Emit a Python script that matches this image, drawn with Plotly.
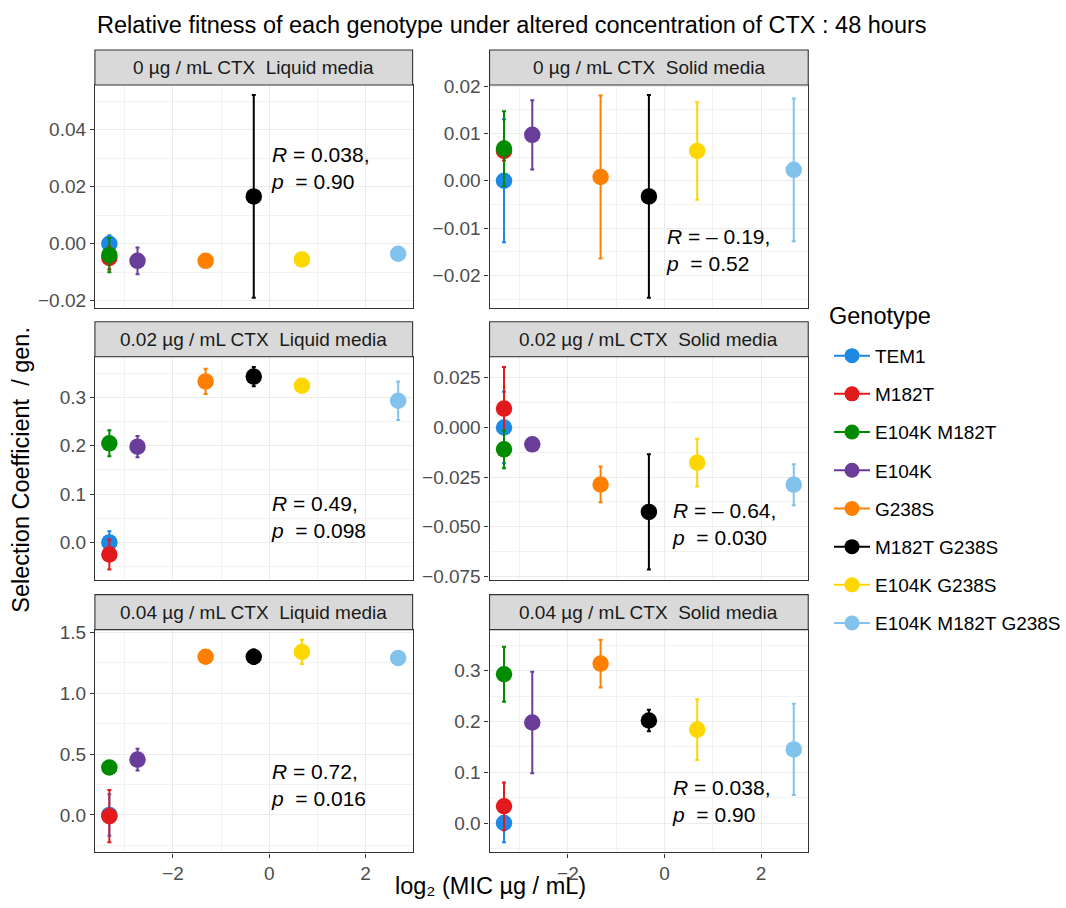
import numpy as np
import plotly.graph_objects as go

# ---------------- data ----------------
genotypes = ["TEM1", "M182T", "E104K M182T", "E104K", "G238S",
             "M182T G238S", "E104K G238S", "E104K M182T G238S"]
mic_ug_ml = [0.1, 0.1, 0.1, 0.15, 0.4, 0.8, 1.6, 6.4]
colors = ["#1E88E5", "#E31A1C", "#008B00", "#6A3D9A", "#FF7F00",
          "#000000", "#FFD700", "#82C3EE"]

panel_titles = ["0 µg / mL CTX  Liquid media", "0 µg / mL CTX  Solid media",
                "0.02 µg / mL CTX  Liquid media", "0.02 µg / mL CTX  Solid media",
                "0.04 µg / mL CTX  Liquid media", "0.04 µg / mL CTX  Solid media"]

s_0_liquid = [0.0, -0.005, -0.004, -0.006, -0.006, 0.0166, -0.0055, -0.0035]
e_0_liquid = [0.003, 0.004, 0.006, 0.0047, 0.001, 0.0355, 0.001, 0.001]
s_0_solid = [0.0, 0.0063, 0.0068, 0.0097, 0.0008, -0.0033, 0.0063, 0.0023]
e_0_solid = [0.013, 0.002, 0.0079, 0.0073, 0.0172, 0.0214, 0.0103, 0.0151]
s_002_liquid = [0.0, -0.025, 0.205, 0.198, 0.333, 0.343, 0.324, 0.293]
e_002_liquid = [0.023, 0.031, 0.027, 0.022, 0.026, 0.02, 0.005, 0.04]
s_002_solid = [0.0, 0.0095, -0.011, -0.0085, -0.0287, -0.0425, -0.0177, -0.0288]
e_002_solid = [0.018, 0.021, 0.0095, 0.001, 0.009, 0.029, 0.012, 0.0103]
s_004_liquid = [0.0, -0.01, 0.39, 0.455, 1.30, 1.30, 1.34, 1.29]
e_004_liquid = [0.17, 0.215, 0.03, 0.09, 0.02, 0.06, 0.1, 0.02]
s_004_solid = [0.0, 0.033, 0.293, 0.198, 0.314, 0.202, 0.184, 0.145]
e_004_solid = [0.038, 0.047, 0.054, 0.10, 0.047, 0.021, 0.06, 0.09]

stat_r = ["0.038", "– 0.19", "0.49", "– 0.64", "0.72", "0.038"]
stat_p = ["0.90", "0.52", "0.098", "0.030", "0.016", "0.90"]

sel = [s_0_liquid, s_0_solid, s_002_liquid, s_002_solid, s_004_liquid, s_004_solid]
err = [e_0_liquid, e_0_solid, e_002_liquid, e_002_solid, e_004_liquid, e_004_solid]

# ---------------- layout geometry ----------------
W, H = 1066, 908
A_Y, B_Y = 0.983, 9.0   # empirical vertical mapping page -> picture
FONT = "Liberation Sans, Arial, sans-serif"
SMALL, BIG, STAT = 19, 23.5, 21


def px(xp):
    return xp / W


def py(yp):
    return 1 - ((yp - B_Y) / A_Y) / H


col_px = [(95, 413), (490, 809)]
row_px = [(85, 308), (357, 580), (630, 853)]
strip_h = 35

y_dtick = [0.02, 0.01, 0.1, 0.025, 0.5, 0.1]
y_fmt = [".2f", ".2f", ".1f", ".3f", ".1f", ".1f"]
# stat label positions (x, y centre of the two lines) in data units
lab_pos = [(0.0, 0.0266), (0.0, -0.0146),
           (0.0, 0.052), (0.12, -0.0484),
           (0.0, 0.243), (0.12, 0.0435)]

x = np.log2(np.array(mic_ug_ml))

fig = go.Figure()
layout = dict(
    width=W, height=H, margin=dict(l=0, r=0, t=0, b=0),
    paper_bgcolor="white", plot_bgcolor="white",
    font=dict(family=FONT, size=SMALL, color="#1A1A1A"),
    showlegend=True,
)
shapes, annotations = [], []

for k in range(6):
    r, c = divmod(k, 2)
    ax = "" if k == 0 else str(k + 1)
    x0p, x1p = col_px[c]
    y0p, y1p = row_px[r]
    xd = [px(x0p), px(x1p)]
    yd = [py(y1p), py(y0p)]
    vals = np.array(sel[k]); ers = np.array(err[k])
    lo, hi = (vals - ers).min(), (vals + ers).max()
    pad = 0.05 * (hi - lo)
    for g in range(len(genotypes)):
        fig.add_trace(go.Scatter(
            x=[x[g]], y=[vals[g]], mode="markers",
            marker=dict(color=colors[g], size=16.5, line=dict(width=0)),
            error_y=dict(type="data", array=[ers[g]], color=colors[g],
                         thickness=2, width=2),
            xaxis="x" + ax, yaxis="y" + ax, showlegend=False,
            name=genotypes[g], hoverinfo="skip"))
    gridc = "#EBEBEB"
    layout["xaxis" + ax] = dict(
        domain=xd, anchor="y" + ax, range=[x.min() - 0.3, x.max() + 0.3],
        dtick=2, tick0=0, showticklabels=(r == 2), ticks="outside" if r == 2 else "",
        ticklen=4, tickcolor="#333333", tickfont=dict(size=SMALL, color="#4D4D4D", family=FONT),
        showgrid=True, gridcolor=gridc, gridwidth=1.1, zeroline=False,
        minor=dict(dtick=1, tick0=0, showgrid=True, gridcolor="#F2F2F2", gridwidth=0.6),
        showline=True, linecolor="#333333", linewidth=1.1, mirror=True)
    layout["yaxis" + ax] = dict(
        domain=yd, anchor="x" + ax, range=[lo - pad, hi + pad],
        dtick=y_dtick[k], tick0=0, tickformat=y_fmt[k], ticks="outside",
        ticklen=4, tickcolor="#333333", tickfont=dict(size=SMALL, color="#4D4D4D", family=FONT),
        showgrid=True, gridcolor=gridc, gridwidth=1.1, zeroline=False,
        minor=dict(dtick=y_dtick[k] / 2, tick0=0, showgrid=True, gridcolor="#F2F2F2", gridwidth=0.6),
        showline=True, linecolor="#333333", linewidth=1.1, mirror=True)
    # strip
    s_top = py(y0p - strip_h)
    shapes.append(dict(type="rect", xref="paper", yref="paper",
                       x0=xd[0], x1=xd[1], y0=yd[1], y1=s_top,
                       fillcolor="#D9D9D9", line=dict(color="#333333", width=1.1)))
    annotations.append(dict(text=panel_titles[k], xref="paper", yref="paper",
                            x=(xd[0] + xd[1]) / 2, y=(yd[1] + s_top) / 2,
                            xanchor="center", yanchor="middle", showarrow=False,
                            font=dict(size=SMALL, color="#1A1A1A", family=FONT)))
    # stats
    lx, ly = lab_pos[k]
    annotations.append(dict(text="<i>R</i> = " + stat_r[k] + ",<br><i>p</i>  = " + stat_p[k],
                            x=lx, y=ly, xref="x" + ax, yref="y" + ax,
                            xanchor="left", yanchor="middle", align="left",
                            showarrow=False, font=dict(size=STAT, color="black", family=FONT)))

# legend entries
for g in range(len(genotypes)):
    fig.add_trace(go.Scatter(
        x=[None], y=[None], mode="lines+markers", name=genotypes[g],
        marker=dict(color=colors[g], size=15), line=dict(color=colors[g], width=2),
        legendgroup=genotypes[g], showlegend=True, xaxis="x", yaxis="y"))

layout["legend"] = dict(
    x=px(830), y=py(337), xanchor="left", yanchor="top",
    font=dict(size=SMALL, color="black", family=FONT), tracegroupgap=10.5,
    bgcolor="rgba(0,0,0,0)", itemwidth=36)

# titles
annotations.append(dict(text="Genotype", xref="paper", yref="paper", x=px(828), y=py(316),
                        xanchor="left", yanchor="middle", showarrow=False,
                        font=dict(size=BIG, color="black", family=FONT)))
annotations.append(dict(text="Relative fitness of each genotype under altered concentration of CTX : 48 hours",
                        xref="paper", yref="paper", x=px(95), y=py(25),
                        xanchor="left", yanchor="middle", showarrow=False,
                        font=dict(size=BIG, color="black", family=FONT)))
annotations.append(dict(text="log₂ (MIC µg / mL)", xref="paper", yref="paper",
                        x=px(491), y=0.0, xanchor="center", yanchor="bottom",
                        showarrow=False, font=dict(size=BIG, color="black", family=FONT)))
annotations.append(dict(text="Selection Coefficient  / gen.", xref="paper", yref="paper",
                        x=px(21), y=py(470), xanchor="center", yanchor="middle",
                        textangle=-90, showarrow=False,
                        font=dict(size=BIG, color="black", family=FONT)))

layout["shapes"] = shapes
layout["annotations"] = annotations
fig.update_layout(**layout)
fig.write_html("out.html", config={"displayModeBar": False},
               post_script="document.body.style.margin='0px';document.body.style.overflow='hidden';")
